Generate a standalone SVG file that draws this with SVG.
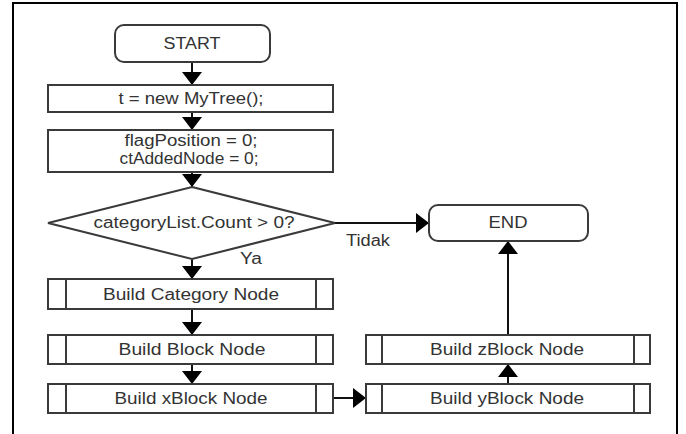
<svg xmlns="http://www.w3.org/2000/svg" width="686" height="434" viewBox="0 0 686 434">
  <style>
    .box { fill: #ffffff; stroke: #3a3a3a; stroke-width: 2; }
    .sub { fill: none; stroke: #3a3a3a; stroke-width: 2; }
    .lbl { font-family: "Liberation Sans", Arial, sans-serif; font-size: 16px; fill: #333333; text-anchor: middle; }
    .note { font-family: "Liberation Sans", Arial, sans-serif; font-size: 16px; fill: #333333; }
    .edge { fill: none; stroke: #111111; stroke-width: 2; }
  </style>
  <defs>
    <marker id="arrow" markerUnits="userSpaceOnUse" markerWidth="14" markerHeight="22" refX="13" refY="10" orient="auto">
      <path d="M0,0 L13,10 L0,20 Z" fill="#000000"/>
    </marker>
  </defs>

  <rect x="0" y="0" width="686" height="434" fill="#ffffff"/>
  <!-- outer frame -->
  <rect x="13" y="3" width="664" height="445" fill="none" stroke="#000000" stroke-width="2"/>

  <g id="connectors">
    <line class="edge" x1="192" y1="62" x2="192" y2="85" marker-end="url(#arrow)"/>
    <line class="edge" x1="192" y1="112" x2="192" y2="130" marker-end="url(#arrow)"/>
    <line class="edge" x1="192" y1="172" x2="192" y2="187" marker-end="url(#arrow)"/>
    <line class="edge" x1="335" y1="223" x2="429" y2="223" marker-end="url(#arrow)"/>
    <line class="edge" x1="192" y1="259" x2="192" y2="279" marker-end="url(#arrow)"/>
    <line class="edge" x1="192" y1="309" x2="192" y2="335" marker-end="url(#arrow)"/>
    <line class="edge" x1="192" y1="364" x2="192" y2="384" marker-end="url(#arrow)"/>
    <line class="edge" x1="333" y1="398" x2="366" y2="398" marker-end="url(#arrow)"/>
    <line class="edge" x1="508" y1="384" x2="508" y2="364" marker-end="url(#arrow)"/>
    <line class="edge" x1="508" y1="335" x2="508" y2="241" marker-end="url(#arrow)"/>
    <text class="note" x="346" y="246" textLength="44" lengthAdjust="spacingAndGlyphs">Tidak</text>
    <text class="note" x="240" y="264" textLength="22" lengthAdjust="spacingAndGlyphs">Ya</text>
  </g>

  <g id="start">
    <rect class="box" x="115" y="25" width="155" height="37" rx="9"/>
    <text class="lbl" x="192" y="49" textLength="57" lengthAdjust="spacingAndGlyphs">START</text>
  </g>

  <g id="init-tree">
    <rect class="box" x="48" y="85" width="285" height="27"/>
    <text class="lbl" x="191" y="104" textLength="145" lengthAdjust="spacingAndGlyphs">t = new MyTree();</text>
  </g>

  <g id="init-vars">
    <rect class="box" x="48" y="130" width="285" height="42"/>
    <text class="lbl" x="191" y="146" textLength="133" lengthAdjust="spacingAndGlyphs">flagPosition = 0;</text>
    <text class="lbl" x="189" y="164" textLength="139" lengthAdjust="spacingAndGlyphs">ctAddedNode = 0;</text>
  </g>

  <g id="decision">
    <polygon class="box" points="192,187 335,223 192,259 48,223"/>
    <text class="lbl" x="194" y="228" textLength="201" lengthAdjust="spacingAndGlyphs">categoryList.Count &gt; 0?</text>
  </g>

  <g id="end">
    <rect class="box" x="429" y="205" width="159" height="36" rx="9"/>
    <text class="lbl" x="508" y="228" textLength="39" lengthAdjust="spacingAndGlyphs">END</text>
  </g>

  <g id="build-category">
    <rect class="box" x="48" y="279" width="285" height="30"/>
    <line class="sub" x1="66" y1="279" x2="66" y2="309"/>
    <line class="sub" x1="316" y1="279" x2="316" y2="309"/>
    <text class="lbl" x="191" y="300" textLength="176" lengthAdjust="spacingAndGlyphs">Build Category Node</text>
  </g>

  <g id="build-block">
    <rect class="box" x="48" y="335" width="285" height="29"/>
    <line class="sub" x1="66" y1="335" x2="66" y2="364"/>
    <line class="sub" x1="316" y1="335" x2="316" y2="364"/>
    <text class="lbl" x="192" y="355" textLength="147" lengthAdjust="spacingAndGlyphs">Build Block Node</text>
  </g>

  <g id="build-xblock">
    <rect class="box" x="48" y="384" width="285" height="29"/>
    <line class="sub" x1="66" y1="384" x2="66" y2="413"/>
    <line class="sub" x1="316" y1="384" x2="316" y2="413"/>
    <text class="lbl" x="191" y="404" textLength="153" lengthAdjust="spacingAndGlyphs">Build xBlock Node</text>
  </g>

  <g id="build-yblock">
    <rect class="box" x="366" y="384" width="284" height="29"/>
    <line class="sub" x1="382" y1="384" x2="382" y2="413"/>
    <line class="sub" x1="634" y1="384" x2="634" y2="413"/>
    <text class="lbl" x="507" y="404" textLength="154" lengthAdjust="spacingAndGlyphs">Build yBlock Node</text>
  </g>

  <g id="build-zblock">
    <rect class="box" x="366" y="335" width="284" height="29"/>
    <line class="sub" x1="382" y1="335" x2="382" y2="364"/>
    <line class="sub" x1="634" y1="335" x2="634" y2="364"/>
    <text class="lbl" x="507" y="355" textLength="154" lengthAdjust="spacingAndGlyphs">Build zBlock Node</text>
  </g>
</svg>
